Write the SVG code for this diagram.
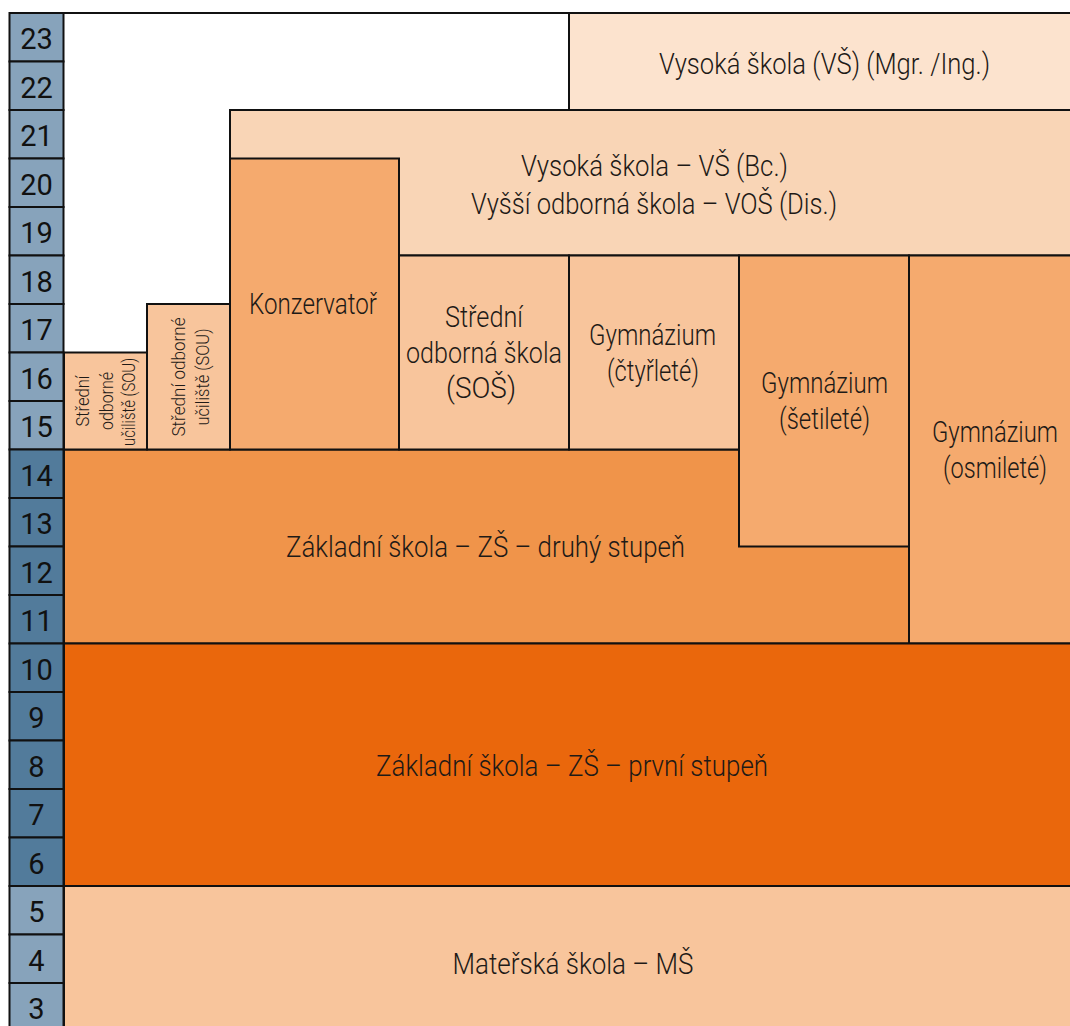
<svg xmlns="http://www.w3.org/2000/svg" width="1070" height="1026" viewBox="0 0 1070 1026">
<style>
  .b { stroke: #111; stroke-width: 2; }
  .lb { fill: #87a3bb; }
  .db { fill: #527b9b; }
  .c1 { fill: #fce3ce; }
  .c2 { fill: #f9d5b6; }
  .c3 { fill: #f8c59c; }
  .c4 { fill: #f5aa6e; }
  .c5 { fill: #f0944a; }
  .c6 { fill: #ea670c; }
  text { font-family: Roboto, "Liberation Sans", sans-serif; fill: #1e1a17; }
  .t { font-size: 29px; font-weight: 300; text-anchor: middle; }
  .s { font-size: 18px; font-weight: 300; text-anchor: middle; }
  .n { font-size: 29px; font-weight: 400; text-anchor: middle; fill: #111; }
</style>
<rect width="1070" height="1026" fill="#ffffff"/>
<line class="b" x1="9" y1="13" x2="1070" y2="13"/>

<g id="years">
  <rect class="b lb" x="9.5" y="13" width="54" height="48.5"/>
  <rect class="b lb" x="9.5" y="61.5" width="54" height="48.5"/>
  <rect class="b lb" x="9.5" y="110" width="54" height="48.5"/>
  <rect class="b lb" x="9.5" y="158.5" width="54" height="48.5"/>
  <rect class="b lb" x="9.5" y="207" width="54" height="48.5"/>
  <rect class="b lb" x="9.5" y="255.5" width="54" height="48.5"/>
  <rect class="b lb" x="9.5" y="304" width="54" height="48.5"/>
  <rect class="b lb" x="9.5" y="352.5" width="54" height="48.5"/>
  <rect class="b lb" x="9.5" y="401" width="54" height="48.5"/>
  <rect class="b db" x="9.5" y="449.5" width="54" height="48.5"/>
  <rect class="b db" x="9.5" y="498" width="54" height="48.5"/>
  <rect class="b db" x="9.5" y="546.5" width="54" height="48.5"/>
  <rect class="b db" x="9.5" y="595" width="54" height="48.5"/>
  <rect class="b db" x="9.5" y="643.5" width="54" height="48.5"/>
  <rect class="b db" x="9.5" y="692" width="54" height="48.5"/>
  <rect class="b db" x="9.5" y="740.5" width="54" height="48.5"/>
  <rect class="b db" x="9.5" y="789" width="54" height="48.5"/>
  <rect class="b db" x="9.5" y="837.5" width="54" height="48.5"/>
  <rect class="b lb" x="9.5" y="886" width="54" height="48.5"/>
  <rect class="b lb" x="9.5" y="934.5" width="54" height="48.5"/>
  <rect class="b lb" x="9.5" y="983" width="54" height="48.5"/>
  <text class="n" x="36.5" y="49">23</text>
  <text class="n" x="36.5" y="97.5">22</text>
  <text class="n" x="36.5" y="146">21</text>
  <text class="n" x="36.5" y="194.5">20</text>
  <text class="n" x="36.5" y="243">19</text>
  <text class="n" x="36.5" y="291.5">18</text>
  <text class="n" x="36.5" y="340">17</text>
  <text class="n" x="36.5" y="388.5">16</text>
  <text class="n" x="36.5" y="437">15</text>
  <text class="n" x="36.5" y="485.5">14</text>
  <text class="n" x="36.5" y="534">13</text>
  <text class="n" x="36.5" y="582.5">12</text>
  <text class="n" x="36.5" y="631">11</text>
  <text class="n" x="36.5" y="679.5">10</text>
  <text class="n" x="36.5" y="728">9</text>
  <text class="n" x="36.5" y="776.5">8</text>
  <text class="n" x="36.5" y="825">7</text>
  <text class="n" x="36.5" y="873.5">6</text>
  <text class="n" x="36.5" y="922">5</text>
  <text class="n" x="36.5" y="970.5">4</text>
  <text class="n" x="36.5" y="1019">3</text>
</g>

<g id="vs-mgr">
  <rect class="b c1" x="569" y="13" width="503" height="97"/>
  <text class="t" x="824.5" y="74" textLength="331" lengthAdjust="spacingAndGlyphs">Vysoká škola (VŠ) (Mgr. /Ing.)</text>
</g>

<g id="vs-bc">
  <rect class="b c2" x="230" y="110" width="842" height="145.5"/>
  <text class="t" x="654.5" y="176" textLength="267" lengthAdjust="spacingAndGlyphs">Vysoká škola – VŠ (Bc.)</text>
  <text class="t" x="654" y="214" textLength="366" lengthAdjust="spacingAndGlyphs">Vyšší odborná škola – VOŠ (Dis.)</text>
</g>

<g id="zs2">
  <rect class="b c5" x="64" y="449.5" width="845" height="194"/>
  <text class="t" x="485.5" y="557" textLength="399" lengthAdjust="spacingAndGlyphs">Základní škola – ZŠ – druhý stupeň</text>
</g>

<g id="sou1">
  <rect class="b c3" x="64" y="352.5" width="83" height="97"/>
  <text class="s" transform="translate(89 401) rotate(-90)" textLength="51" lengthAdjust="spacingAndGlyphs">Střední</text>
  <text class="s" transform="translate(113 401) rotate(-90)" textLength="58" lengthAdjust="spacingAndGlyphs">odborné</text>
  <text class="s" transform="translate(135 402) rotate(-90)" textLength="88" lengthAdjust="spacingAndGlyphs">učiliště (SOU)</text>
</g>

<g id="sou2">
  <rect class="b c3" x="147" y="304" width="83" height="145.5"/>
  <text class="s" transform="translate(185 377) rotate(-90)" textLength="119" lengthAdjust="spacingAndGlyphs">Střední odborné</text>
  <text class="s" transform="translate(209 377) rotate(-90)" textLength="97" lengthAdjust="spacingAndGlyphs">učiliště (SOU)</text>
</g>

<g id="konzervator">
  <rect class="b c4" x="230" y="158.5" width="169" height="291"/>
  <text class="t" x="313" y="314" textLength="128" lengthAdjust="spacingAndGlyphs">Konzervatoř</text>
</g>

<g id="sos">
  <rect class="b c3" x="399" y="255.5" width="170" height="194"/>
  <text class="t" x="484" y="327" textLength="78" lengthAdjust="spacingAndGlyphs">Střední</text>
  <text class="t" x="484" y="363" textLength="156" lengthAdjust="spacingAndGlyphs">odborná škola</text>
  <text class="t" x="481" y="398" textLength="70" lengthAdjust="spacingAndGlyphs">(SOŠ)</text>
</g>

<g id="gym4">
  <rect class="b c3" x="569" y="255.5" width="170" height="194"/>
  <text class="t" x="652.5" y="345" textLength="127" lengthAdjust="spacingAndGlyphs">Gymnázium</text>
  <text class="t" x="653" y="381" textLength="92" lengthAdjust="spacingAndGlyphs">(čtyřleté)</text>
</g>

<g id="gym6">
  <rect class="b c4" x="739" y="255.5" width="170" height="291"/>
  <text class="t" x="824.5" y="393" textLength="127" lengthAdjust="spacingAndGlyphs">Gymnázium</text>
  <text class="t" x="824.5" y="429" textLength="91" lengthAdjust="spacingAndGlyphs">(šetileté)</text>
</g>

<g id="gym8">
  <rect class="b c4" x="909" y="255.5" width="163" height="388"/>
  <text class="t" x="995" y="442" textLength="126" lengthAdjust="spacingAndGlyphs">Gymnázium</text>
  <text class="t" x="995" y="478" textLength="104" lengthAdjust="spacingAndGlyphs">(osmileté)</text>
</g>

<g id="zs1">
  <rect class="b c6" x="64" y="643.5" width="1008" height="242.5"/>
  <text class="t" x="572" y="776" textLength="392" lengthAdjust="spacingAndGlyphs">Základní škola – ZŠ – první stupeň</text>
</g>

<g id="ms">
  <rect class="b c3" x="64" y="886" width="1008" height="145"/>
  <text class="t" x="573" y="974" textLength="241" lengthAdjust="spacingAndGlyphs">Mateřská škola – MŠ</text>
</g>

<g id="connectors"/>
</svg>
